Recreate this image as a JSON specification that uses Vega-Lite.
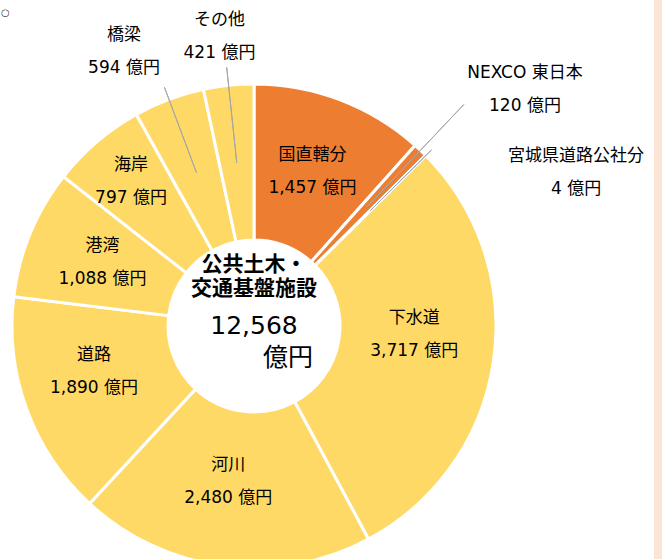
{
  "$schema": "https://vega.github.io/schema/vega-lite/v6.json",
  "padding": 0,
  "background": "white",
  "bounds": "flush",
  "spacing": 146,
  "config": {
    "view": {"stroke": null},
    "text": {"font": "'DejaVu Sans', 'Noto Sans CJK JP'", "fontSize": 17, "color": "#000000", "baseline": "middle", "align": "center"}
  },
  "hconcat": [
    {
      "width": 508,
      "height": 652,
      "title": {"text": "○", "anchor": "start", "frame": "group", "orient": "top", "offset": -24, "fontSize": 10, "fontWeight": "normal", "font": "DejaVu Sans", "color": "#333333", "baseline": "bottom", "dx": 1, "dy": 4},
      "data": {
        "values": [
          {"category": "国直轄分", "value": 1457, "amount": "1,457 億円"},
          {"category": "NEXCO 東日本", "value": 120, "amount": "120 億円"},
          {"category": "宮城県道路公社分", "value": 4, "amount": "4 億円"},
          {"category": "下水道", "value": 3717, "amount": "3,717 億円"},
          {"category": "河川", "value": 2480, "amount": "2,480 億円"},
          {"category": "道路", "value": 1890, "amount": "1,890 億円"},
          {"category": "港湾", "value": 1088, "amount": "1,088 億円"},
          {"category": "海岸", "value": 797, "amount": "797 億円"},
          {"category": "橋梁", "value": 594, "amount": "594 億円"},
          {"category": "その他", "value": 421, "amount": "421 億円"}
        ]
      },
      "transform": [
        {"window": [{"op": "row_number", "as": "idx"}]},
        {"stack": "value", "groupby": [], "sort": [{"field": "idx", "order": "ascending"}], "as": ["v0", "v1"]}
      ],
      "layer": [
        {
          "encoding": {
            "theta": {"field": "value", "type": "quantitative", "stack": true},
            "order": {"field": "idx", "type": "quantitative"},
            "detail": {"field": "category", "type": "nominal"}
          },
          "layer": [
            {
              "mark": {"type": "arc", "innerRadius": 86, "outerRadius": 242, "stroke": "white", "strokeWidth": 3},
              "encoding": {
                "color": {
                  "field": "category", "type": "nominal", "legend": null,
                  "scale": {
                    "domain": ["国直轄分", "NEXCO 東日本", "宮城県道路公社分", "下水道", "河川", "道路", "港湾", "海岸", "橋梁", "その他"],
                    "range": ["#ED7D31", "#ED7D31", "#ED7D31", "#FFD966", "#FFD966", "#FFD966", "#FFD966", "#FFD966", "#FFD966", "#FFD966"]
                  }
                }
              }
            },
            {
              "mark": {"type": "text", "radius": 164, "dy": -17.5},
              "encoding": {
                "text": {"field": "category", "type": "nominal"},
                "opacity": {"condition": {"test": "datum.category === '国直轄分' || datum.category === '港湾'", "value": 1}, "value": 0}
              }
            },
            {
              "mark": {"type": "text", "radius": 164, "dy": 15.5},
              "encoding": {
                "text": {"field": "amount", "type": "nominal"},
                "opacity": {"condition": {"test": "datum.category === '国直轄分' || datum.category === '港湾'", "value": 1}, "value": 0}
              }
            },
            {
              "mark": {"type": "text", "radius": 164, "dx": -2, "dy": -32.5},
              "encoding": {"text": {"field": "category", "type": "nominal"}, "opacity": {"condition": {"test": "datum.category === '下水道'", "value": 1}, "value": 0}}
            },
            {
              "mark": {"type": "text", "radius": 164, "dx": -2, "dy": 0.5},
              "encoding": {"text": {"field": "amount", "type": "nominal"}, "opacity": {"condition": {"test": "datum.category === '下水道'", "value": 1}, "value": 0}}
            },
            {
              "mark": {"type": "text", "radius": 164, "dx": -5, "dy": -23.2},
              "encoding": {"text": {"field": "category", "type": "nominal"}, "opacity": {"condition": {"test": "datum.category === '河川'", "value": 1}, "value": 0}}
            },
            {
              "mark": {"type": "text", "radius": 164, "dx": -5, "dy": 9.8},
              "encoding": {"text": {"field": "amount", "type": "nominal"}, "opacity": {"condition": {"test": "datum.category === '河川'", "value": 1}, "value": 0}}
            },
            {
              "mark": {"type": "text", "radius": 164, "dx": -6, "dy": -27},
              "encoding": {"text": {"field": "category", "type": "nominal"}, "opacity": {"condition": {"test": "datum.category === '道路'", "value": 1}, "value": 0}}
            },
            {
              "mark": {"type": "text", "radius": 164, "dx": -6, "dy": 6},
              "encoding": {"text": {"field": "amount", "type": "nominal"}, "opacity": {"condition": {"test": "datum.category === '道路'", "value": 1}, "value": 0}}
            },
            {
              "mark": {"type": "text", "radius": 164, "dx": -16.5, "dy": -35.8},
              "encoding": {"text": {"field": "category", "type": "nominal"}, "opacity": {"condition": {"test": "datum.category === '海岸'", "value": 1}, "value": 0}}
            },
            {
              "mark": {"type": "text", "radius": 164, "dx": -16.5, "dy": -2.8},
              "encoding": {"text": {"field": "amount", "type": "nominal"}, "opacity": {"condition": {"test": "datum.category === '海岸'", "value": 1}, "value": 0}}
            }
          ]
        },
        {
          "transform": [{"filter": "datum.category === 'NEXCO 東日本'"}],
          "encoding": {"theta": {"field": "v0", "type": "quantitative", "stack": null}},
          "layer": [
            {
              "mark": {"type": "arc", "radius": 305, "radius2": 164, "padAngle": 3.1416, "fill": "transparent", "stroke": "#A6A6A6", "strokeWidth": 1},
              "encoding": {"theta2": {"field": "v1"}}
            },
            {"mark": {"type": "text", "radius": 357, "dx": 33.3, "dy": 13.1}, "encoding": {"text": {"field": "category", "type": "nominal"}}},
            {"mark": {"type": "text", "radius": 357, "dx": 33.3, "dy": 46.1}, "encoding": {"text": {"field": "amount", "type": "nominal"}}}
          ]
        },
        {
          "transform": [{"filter": "datum.category === '宮城県道路公社分'"}],
          "encoding": {"theta": {"field": "v0", "type": "quantitative", "stack": null}},
          "layer": [
            {
              "mark": {"type": "arc", "radius": 250, "radius2": 164, "padAngle": 3.1416, "fill": "transparent", "stroke": "#A6A6A6", "strokeWidth": 1},
              "encoding": {"theta2": {"field": "v1"}}
            },
            {"mark": {"type": "text", "radius": 336.6, "dx": 83.3, "dy": 67.3}, "encoding": {"text": {"field": "category", "type": "nominal"}}},
            {"mark": {"type": "text", "radius": 336.6, "dx": 83.3, "dy": 100.3}, "encoding": {"text": {"field": "amount", "type": "nominal"}}}
          ]
        },
        {
          "transform": [{"filter": "datum.category === '橋梁'"}],
          "encoding": {"theta": {"field": "v0", "type": "quantitative", "stack": null}},
          "layer": [
            {
              "mark": {"type": "arc", "radius": 255, "radius2": 164, "padAngle": 3.1416, "fill": "transparent", "stroke": "#A6A6A6", "strokeWidth": 1},
              "encoding": {"theta2": {"field": "v1"}}
            },
            {"mark": {"type": "text", "radius": 303.5, "dx": 17.5, "dy": -26.2}, "encoding": {"text": {"field": "category", "type": "nominal"}}},
            {"mark": {"type": "text", "radius": 303.5, "dx": 17.5, "dy": 6.8}, "encoding": {"text": {"field": "amount", "type": "nominal"}}}
          ]
        },
        {
          "transform": [{"filter": "datum.category === 'その他'"}],
          "encoding": {"theta": {"field": "v0", "type": "quantitative", "stack": null}},
          "layer": [
            {
              "mark": {"type": "arc", "radius": 260, "radius2": 164, "padAngle": 3.1416, "fill": "transparent", "stroke": "#A6A6A6", "strokeWidth": 1},
              "encoding": {"theta2": {"field": "v1"}}
            },
            {"mark": {"type": "text", "radius": 289.8, "dx": 26, "dy": -22.1}, "encoding": {"text": {"field": "category", "type": "nominal"}}},
            {"mark": {"type": "text", "radius": 289.8, "dx": 26, "dy": 10.9}, "encoding": {"text": {"field": "amount", "type": "nominal"}}}
          ]
        },
        {
          "transform": [{"aggregate": [{"op": "sum", "field": "value", "as": "total"}]}],
          "layer": [
            {
              "mark": {"type": "text", "text": ["公共土木・", "交通基盤施設"], "fontSize": 21, "fontWeight": "bold", "lineHeight": 23.5, "dy": -61},
              "encoding": {}
            },
            {
              "mark": {"type": "text", "fontSize": 25},
              "encoding": {"text": {"field": "total", "type": "quantitative", "format": ",d"}}
            },
            {
              "mark": {"type": "text", "text": "億円", "fontSize": 25, "dx": 34, "dy": 32},
              "encoding": {}
            }
          ]
        }
      ]
    },
    {
      "width": 8,
      "height": 652,
      "view": {"fill": "#FBE4D6", "stroke": null},
      "data": {"values": [{"strip": "edge"}]},
      "mark": {"type": "text", "text": ""},
      "encoding": {}
    }
  ]
}
